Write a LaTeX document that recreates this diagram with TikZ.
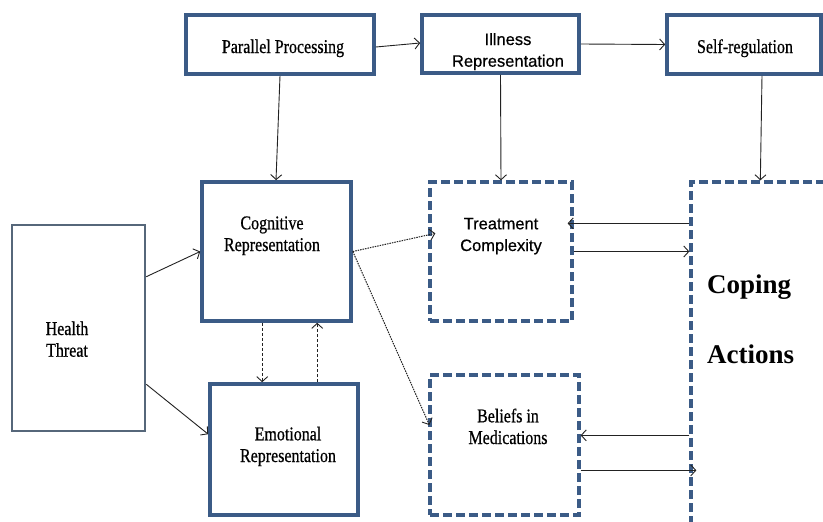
\documentclass[tikz,border=0pt]{standalone}
\usepackage{fontspec}
\usetikzlibrary{arrows.meta,calc}
\newfontfamily\serifcond[FakeStretch=0.82,FakeBold=0.6]{Liberation Serif}
\newfontfamily\serifbold{Liberation Serif}
\newfontfamily\sansarial[FakeBold=0.5]{Liberation Sans}
\definecolor{boxblue}{HTML}{3B5B86}
\definecolor{htgray}{HTML}{56677A}
\definecolor{arrowc}{HTML}{222222}
\tikzset{
  solidbox/.style={draw=boxblue, line width=3.6pt, fill=white, rectangle, inner sep=0pt},
  thinbox/.style={draw=htgray, line width=2.6pt, fill=white, rectangle, inner sep=0pt},
  dashbox/.style={draw=boxblue, line width=3.3pt, dash pattern=on 9pt off 4pt, fill=white, rectangle, inner sep=0pt},
  serlabel/.style={font=\serifcond\fontsize{19.5}{21.7}\selectfont, align=center, anchor=base, inner sep=0pt},
  sanslabel/.style={font=\sansarial\fontsize{16.5}{21.7}\selectfont, align=center, anchor=base, inner sep=0pt},
  conn/.style={draw=arrowc, line width=0.9pt, -{Straight Barb[length=5pt,width=11pt,line width=0.9pt]}},
  dashconn/.style={conn, dash pattern=on 3pt off 2pt},
  dotconn/.style={conn, line width=1pt, dash pattern=on 1.5pt off 1pt},
}
\begin{document}
\begin{tikzpicture}[x=1pt,y=-1pt]
\clip (0,0) rectangle (823,522);
\fill[white] (0,0) rectangle (823,522);
% boxes
\node[solidbox, minimum width=188pt, minimum height=59pt] (pp) at (280,44.5) {};
\node[solidbox, minimum width=157pt, minimum height=58pt] (ir) at (500.5,44) {};
\node[solidbox, minimum width=154pt, minimum height=59pt] (sr) at (744,44.5) {};
\node[thinbox, minimum width=133pt, minimum height=206pt] (ht) at (78.5,328) {};
\node[solidbox, minimum width=149pt, minimum height=139pt] (cog) at (276.5,251.5) {};
\node[solidbox, minimum width=148pt, minimum height=131pt] (emo) at (284,449.5) {};
\node[dashbox, minimum width=142pt, minimum height=139pt] (tc) at (501,251.5) {};
\node[dashbox, minimum width=149pt, minimum height=140pt] (bel) at (504.5,445) {};
\node[dashbox, minimum width=209pt, minimum height=418pt] (cop) at (795.5,391) {};
% labels (anchor base = last line baseline)
\node[serlabel] (ppt) at (283,53) {Parallel Processing};
\node[sanslabel] (irt) at (508,66.7) {Illness\\Representation};
\node[serlabel] (srt) at (745,53) {Self-regulation};
\node[serlabel] (cogt) at (272,251) {Cognitive\\Representation};
\node[serlabel] (htt) at (67,356.7) {Health\\Threat};
\node[serlabel] (emot) at (288,462) {Emotional\\Representation};
\node[sanslabel] (tct) at (501,251) {Treatment\\Complexity};
\node[serlabel] (belt) at (508,444) {Beliefs in\\Medications};
\node[font=\serifbold\bfseries\fontsize{27}{30}\selectfont, anchor=base west, inner sep=0pt] (copt1) at (707,293) {Coping};
\node[font=\serifbold\bfseries\fontsize{27}{30}\selectfont, anchor=base west, inner sep=0pt] (copt2) at (707,363) {Actions};
% connectors
\draw[conn] ($(pp.east)+(0,2.5)$) -- ($(ir.west)+(0,-1)$);
\draw[conn] (ir.east) -- (sr.west);
\draw[conn] (pp.south) -- ($(cog.north)+(-0.5,0)$);
\draw[conn] (ir.south) -- (tc.north);
\draw[conn] ($(sr.south)+(18,0)$) -- ($(cop.north west)+(71,0)$);
\draw[conn] ($(ht.north east)+(0,53)$) -- (cog.west);
\draw[conn] ($(ht.south east)+(0,-48)$) -- ($(emo.north west)+(0,52)$);
\draw[dashconn] ($(cog.south west)+(62,0)$) -- ($(emo.north west)+(54,0)$);
\draw[dashconn] ($(emo.north west)+(109,0)$) -- ($(cog.south west)+(117,0)$);
\draw[dotconn] (cog.east) -- ($(tc.north west)+(7,53)$);
\draw[dotconn] (cog.east) -- ($(bel.west)+(1,-20)$);
\draw[conn] ($(cop.north west)+(0,43)$) -- ($(tc.north east)+(-6,43)$);
\draw[conn] (tc.east) -- (tc.east -| cop.west);
\coordinate (cb) at ($(bel.north east)+(0,62)$);
\draw[conn] (cb -| cop.west) -- (cb);
\draw[conn] ($(bel.north east)+(0,97)$) -- ($(cop.north west)+(7,290)$);
\end{tikzpicture}
\end{document}
